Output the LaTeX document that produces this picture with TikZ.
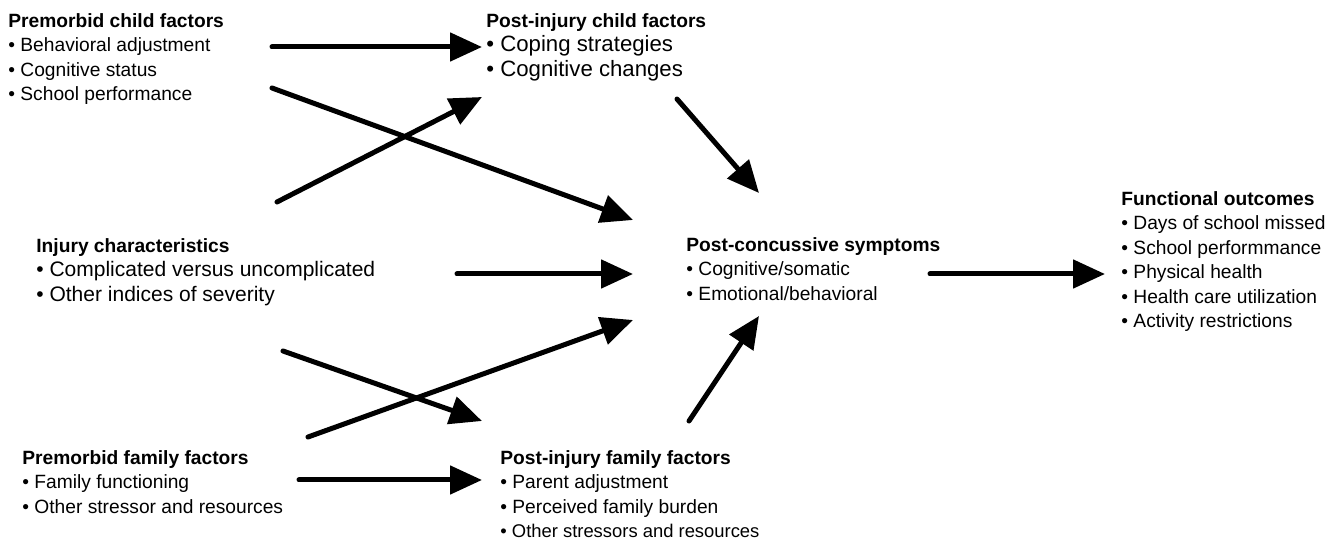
\documentclass[tikz,border=0pt]{standalone}
\usepackage{fontspec}
\setmainfont{Liberation Sans}
\usetikzlibrary{arrows.meta}

\tikzset{
  factor/.style={anchor=north west, inner sep=0pt, align=left,
    font=\fontsize{9.6}{12.25}\selectfont},
  arr/.style={line width=2.5pt, line cap=round,
    -{Triangle[length=16pt,width=14pt]}}
}
% items set a little larger or narrower than the rest
\newcommand{\itemsz}[2]{{\fontsize{#1}{12.25}\selectfont\textbullet\ #2}}

\begin{document}
\begin{tikzpicture}[x=0.5pt,y=-0.5pt]
    \useasboundingbox (0,0) rectangle (1339,539);

    % text blocks
    \node[factor] (pcf) at (8,13) {\textbf{Premorbid child factors}\\
        \textbullet\ Behavioral adjustment\\
        \textbullet\ Cognitive status\\
        \textbullet\ School performance};
    \node[factor] (pic) at (486,13) {\textbf{Post-injury child factors}\\
        \itemsz{11.1}{Coping strategies}\\
        \itemsz{11.1}{Cognitive changes}};
    \node[factor] (inj) at (36,238) {\textbf{Injury characteristics}\\
        \itemsz{10.5}{Complicated versus uncomplicated}\\
        \itemsz{10.5}{Other indices of severity}};
    \node[factor] (pcs) at (686,237) {\textbf{Post-concussive symptoms}\\
        \textbullet\ Cognitive/somatic\\
        \textbullet\ Emotional/behavioral};
    \node[factor] (fun) at (1121,191) {\textbf{Functional outcomes}\\
        \textbullet\ Days of school missed\\
        \textbullet\ School performmance\\
        \textbullet\ Physical health\\
        \textbullet\ Health care utilization\\
        \textbullet\ Activity restrictions};
    \node[factor] (pff) at (22,450) {\textbf{Premorbid family factors}\\
        \textbullet\ Family functioning\\
        \textbullet\ Other stressor and resources};
    \node[factor] (pif) at (500,450) {\textbf{Post-injury family factors}\\
        \textbullet\ Parent adjustment\\
        \textbullet\ Perceived family burden\\
        \itemsz{9.2}{Other stressors and resources}};

    % arrow ends
    \coordinate (pcf-a) at (272,47);
    \coordinate (pcf-b) at (272,88);
    \coordinate (inj-a) at (277,202);
    \coordinate (inj-b) at (457,274);
    \coordinate (inj-c) at (283,351);
    \coordinate (pic-in) at (482,47);
    \coordinate (pic-in2) at (482,97);
    \coordinate (pic-out) at (677,99);
    \coordinate (pcs-in1) at (633,220);
    \coordinate (pcs-in2) at (759,193);
    \coordinate (pcs-in3) at (633,274);
    \coordinate (pcs-in4) at (633,320);
    \coordinate (pcs-in5) at (759,316);
    \coordinate (pcs-out) at (930,274);
    \coordinate (fun-in) at (1105,274);
    \coordinate (pff-a) at (308,437);
    \coordinate (pff-b) at (299,480);
    \coordinate (pif-in1) at (482,421);
    \coordinate (pif-in2) at (482,480);
    \coordinate (pif-out) at (689,421);

    % child paths
    \draw[arr] (pcf-a) -- (pic-in);
    \draw[arr] (pcf-b) -- (pcs-in1);
    \draw[arr] (inj-a) -- (pic-in2);
    \draw[arr] (pic-out) -- (pcs-in2);

    % injury
    \draw[arr] (inj-b) -- (pcs-in3);
    \draw[arr] (inj-c) -- (pif-in1);

    % family paths
    \draw[arr] (pff-a) -- (pcs-in4);
    \draw[arr] (pif-out) -- (pcs-in5);
    \draw[arr] (pff-b) -- (pif-in2);

    % outcomes
    \draw[arr] (pcs-out) -- (fun-in);
\end{tikzpicture}
\end{document}
